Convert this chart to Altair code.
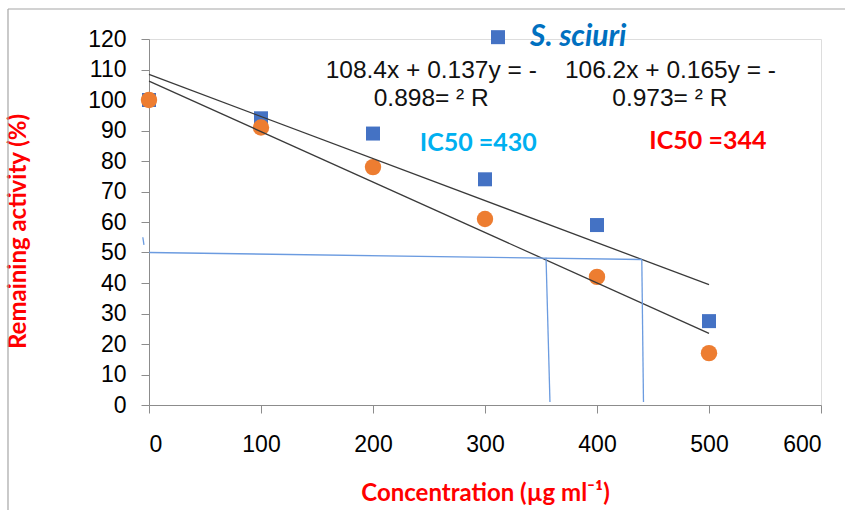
import altair as alt
import pandas as pd

# ---- data ----
conc = [0, 100, 200, 300, 400, 500]
sciuri_act = [100, 94, 89, 74, 59, 27.5]
second_act = [100, 91, 78, 61, 42, 17]

# IC50 guide lines (concentration, activity)
guide_h_x = [0, 440]
guide_h_y = [50, 47.7]
guide_v1_x = [354.5, 358]
guide_v1_y = [48.3, 1]
guide_v2_x = [440, 441.5]
guide_v2_y = [47.7, 1]
guide_tick_x = [-5.5, -4.5]
guide_tick_y = [55, 52.5]

eq_texts = ["108.4x + 0.137y = -", "0.898= \u00b2 R", "106.2x + 0.165y = -", "0.973= \u00b2 R"]
eq_x = [252, 252, 465.6, 465]
eq_y = [109.5, 100.3, 109.5, 100.3]

ic_texts = ["IC50 =430", "IC50 =344"]
ic_x = [294, 499]
ic_y = [86.0, 86.6]
ic_colors = ["#00B0F0", "#FF0000"]

legend_label = "S. sciuri"
legend_x = 311.6
legend_y = 120.6

# ---- tables ----
pts = pd.DataFrame({
    "conc": conc * 2,
    "act": sciuri_act + second_act,
    "series": ["sciuri"] * 6 + ["second"] * 6,
})
guides = pd.DataFrame({
    "conc": guide_h_x + guide_v1_x + guide_v2_x + guide_tick_x,
    "act": guide_h_y + guide_v1_y + guide_v2_y + guide_tick_y,
    "g": ["h"] * 2 + ["v1"] * 2 + ["v2"] * 2 + ["t"] * 2,
    "o": [0, 1] * 4,
})
eqs = pd.DataFrame({"t": eq_texts, "conc": eq_x, "act": eq_y})
ics = pd.DataFrame({"t": ic_texts, "conc": ic_x, "act": ic_y, "c": ic_colors})
leg = pd.DataFrame({"t": [legend_label], "conc": [legend_x], "act": [legend_y]})

xs = alt.Scale(domain=[0, 600], nice=False)
ys = alt.Scale(domain=[0, 120], nice=False)

x_axis = alt.Axis(
    values=[0, 100, 200, 300, 400, 500, 600], grid=False, labelOverlap=False,
    domainColor="#8c8c8c", tickColor="#8c8c8c", tickSize=8,
    labelFont="Liberation Sans", labelFontSize=23, labelColor="#000000",
    labelPadding=20,
    title="Concentration (\u00b5g ml\u207b\u00b9)", titleFont="Lato", titleFontSize=24,
    titleFontWeight="bold", titleColor="#FF0000", titleY=88, titleBaseline="middle")
y_axis = alt.Axis(
    values=[0, 10, 20, 30, 40, 50, 60, 70, 80, 90, 100, 110, 120], grid=False,
    labelOverlap=False,
    domainColor="#8c8c8c", tickColor="#8c8c8c", tickSize=8,
    labelFont="Liberation Sans", labelFontSize=23, labelColor="#000000",
    labelPadding=15,
    title="Remaining activity (%)", titleFont="Lato", titleFontSize=24,
    titleFontWeight="bold", titleColor="#FF0000", titleX=-131, titleY=192,
    titleAngle=-90, titleBaseline="middle")

X = alt.X("conc:Q", scale=xs, axis=x_axis)
Y = alt.Y("act:Q", scale=ys, axis=y_axis)

base = alt.Chart(pts)

squares = base.transform_filter(alt.datum.series == "sciuri").mark_square(
    size=196, color="#4472C4", opacity=1).encode(x=X, y=Y)
circles = base.transform_filter(alt.datum.series == "second").mark_circle(
    size=270, color="#ED7D31", opacity=1).encode(x=X, y=Y)

trend = base.transform_regression("conc", "act", groupby=["series"]).mark_line(
    color="#3a3a3a", strokeWidth=1.3).encode(x=X, y=Y, detail="series:N")

guide_lines = alt.Chart(guides).mark_line(color="#6b9be0", strokeWidth=1.3, clip=False).encode(
    x=X, y=Y, detail="g:N", order="o:Q")

eq_marks = alt.Chart(eqs).mark_text(font="Liberation Sans", fontSize=24.5, color="#111111",
                                     align="center", baseline="middle").encode(
    x=X, y=Y, text="t:N")

ic_marks = alt.Chart(ics).mark_text(font="Lato", fontSize=25, fontWeight="bold",
                                     align="center", baseline="middle").encode(
    x=X, y=Y, text="t:N", color=alt.Color("c:N", scale=None))

leg_sq = alt.Chart(leg).mark_square(size=196, color="#4472C4", opacity=1, clip=False).encode(
    x=X, y=Y)
leg_txt = alt.Chart(leg).mark_text(font="Lato", fontSize=30, fontWeight="bold", fontStyle="italic",
                                    color="#0070C0", align="left", baseline="middle", dx=32,
                                    clip=False).encode(
    x=X, y=Y, text="t:N")

frame_top = alt.Chart(leg).mark_rule(color="#a6a6a6", strokeWidth=1.2).encode(
    x=alt.value(-141), x2=alt.value(700), y=alt.value(-30))
frame_left = alt.Chart(leg).mark_rule(color="#a6a6a6", strokeWidth=1.2).encode(
    x=alt.value(-141), y=alt.value(-30), y2=alt.value(475))

chart = alt.layer(
    squares, circles, trend, guide_lines,
    eq_marks, ic_marks, leg_sq, leg_txt, frame_top, frame_left
).properties(
    width=672, height=366,
    autosize=alt.AutoSizeParams(type="none"),
    padding={"left": 149, "top": 39, "right": 24, "bottom": 105},
).configure_view(stroke=None).configure(background="#ffffff")

chart.save("out.html", embed_options={"renderer": "svg", "actions": False})
